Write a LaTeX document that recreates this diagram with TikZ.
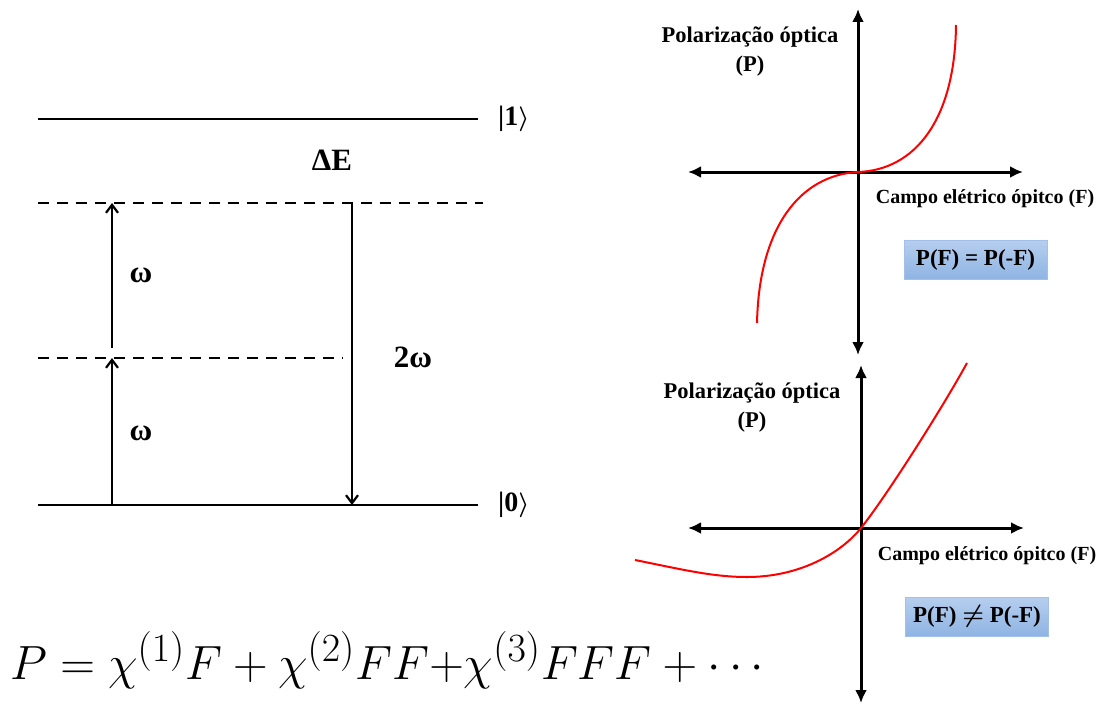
\documentclass[tikz,border=0pt]{standalone}
\usepackage{fontspec}
\setmainfont{Liberation Serif}
\usepackage{amsmath,graphicx}
\usetikzlibrary{positioning,calc,arrows.meta}
\definecolor{boxtop}{HTML}{B6CEEF}
\definecolor{boxbot}{HTML}{8FB4E3}
\definecolor{boxedge}{HTML}{A3C0E8}
\tikzset{>={Latex}}
\tikzset{lvl/.style={line width=2.8pt}}
\tikzset{virt/.style={line width=2.8pt,dash pattern=on 11pt off 8pt}}
\tikzset{trans/.style={line width=2.2pt,-{Straight Barb[length=8pt,width=12pt,line width=2.2pt]}}}
\tikzset{axis/.style={line width=3pt,{Latex[length=13pt,width=12pt]}-{Latex[length=13pt,width=12pt]}}}
\tikzset{resp/.style={red,line width=2pt}}
\tikzset{lbl/.style={font=\bfseries\fontsize{31}{34}\selectfont,inner sep=0pt}}
\tikzset{ketlbl/.style={font=\bfseries\fontsize{28}{32}\selectfont,inner sep=0pt,anchor=west}}
\tikzset{axlbl/.style={font=\bfseries\fontsize{20}{29}\selectfont,align=center,inner sep=0pt}}
\tikzset{pollbl/.style={font=\bfseries\fontsize{22.5}{29}\selectfont,align=center,inner sep=0pt}}
\tikzset{relbox/.style={draw=boxedge,line width=1pt,top color=boxtop,bottom color=boxbot,minimum width=143pt,minimum height=39pt,inner sep=0pt,font=\bfseries\fontsize{23}{26}\selectfont}}

\begin{document}
\begin{tikzpicture}[x=1pt,y=-1pt]
	\useasboundingbox (0,0) rectangle (1100,706);
		\coordinate (e1L) at (38,119);
		\coordinate (e1R) at (478,119);
		\coordinate (v2L) at (38,203);
		\coordinate (v2R) at (483,203);
		\coordinate (v1L) at (38,358);
		\coordinate (v1R) at (343,358);
		\coordinate (e0L) at (38,505);
		\coordinate (e0R) at (478,505);

			\draw[lvl] (e1L) -- (e1R);
			\draw[lvl] (e0L) -- (e0R);
			\draw[virt] (v2L) -- (v2R);
			\draw[virt] (v1L) -- (v1R);

		\coordinate (u1a) at (112,505);
		\coordinate (u1b) at (112,358);
		\coordinate (u2a) at (112,348);
		\coordinate (u2b) at (112,203);
		\coordinate (da) at (352,203);
		\coordinate (db) at (352,505);

			\draw[trans] (u1a) -- (u1b);
			\draw[trans] (u2a) -- (u2b);
			\draw[trans] (da) -- (db);

				\node[ketlbl] (ket1) at (498,119) {|1$\boldsymbol{\rangle}$};
				\node[ketlbl] (ket0) at (498,505) {|0$\boldsymbol{\rangle}$};
				\node[lbl] (dE) at (332,160) {ΔE};
				\node[lbl] (w2) at (141,275) {ω};
				\node[lbl] (w1) at (141,433) {ω};
				\node[lbl] (ww) at (413,357) {2ω};

	% cubic response
		\coordinate (o1) at (858,172);
		\coordinate (h1L) at (688,172);
		\coordinate (h1R) at (1023,172);
		\coordinate (p1T) at (858,9);
		\coordinate (p1B) at (858,355);
			\draw[axis] (h1L) -- (h1R);
			\draw[axis] (p1T) -- (p1B);
		\coordinate (c1s) at (757,323);
		\coordinate (c1e) at (956,25);
			\draw[resp] (c1s) .. controls (759,226) and (801,175) .. (o1)
				.. controls (915,170) and (955,120) .. (c1e);
				\node[pollbl] (pol1) at (750,52) {Polarização óptica\\(P)};
				\node[axlbl] (cam1) at (985,199) {Campo elétrico ópitco (F)};
				\node[relbox] (rel1) at (975.5,259.5) {P(F) = P(-F)};

	% quadratic response
		\coordinate (o2) at (861,528);
		\coordinate (h2L) at (688,528);
		\coordinate (h2R) at (1024,528);
		\coordinate (p2T) at (861,365);
		\coordinate (p2B) at (861,703);
			\draw[axis] (h2L) -- (h2R);
			\draw[axis] (p2T) -- (p2B);
		\coordinate (c2s) at (635,560);
		\coordinate (c2m) at (747,577);
		\coordinate (c2e) at (967,363);
			\draw[resp] (c2s) .. controls (680,569) and (712,577) .. (c2m)
				.. controls (800,577) and (841,553) .. (o2)
				.. controls (885,498) and (940,412) .. (c2e);
				\node[pollbl] (pol2) at (752,408) {Polarização óptica\\(P)};
				\node[axlbl] (cam2) at (987,556) {Campo elétrico ópitco (F)};
				\node[relbox] (rel2) at (977,616.5) {P(F) $\boldsymbol{\neq}$ P(-F)};

		\node[anchor=base west,inner sep=0pt,font=\Huge] (eq) at (10,679)
			{\scalebox{1.93}{$P=\chi^{(1)}F+\chi^{(2)}FF{+}\chi^{(3)}FFF+\cdots$}};
\end{tikzpicture}
\end{document}
